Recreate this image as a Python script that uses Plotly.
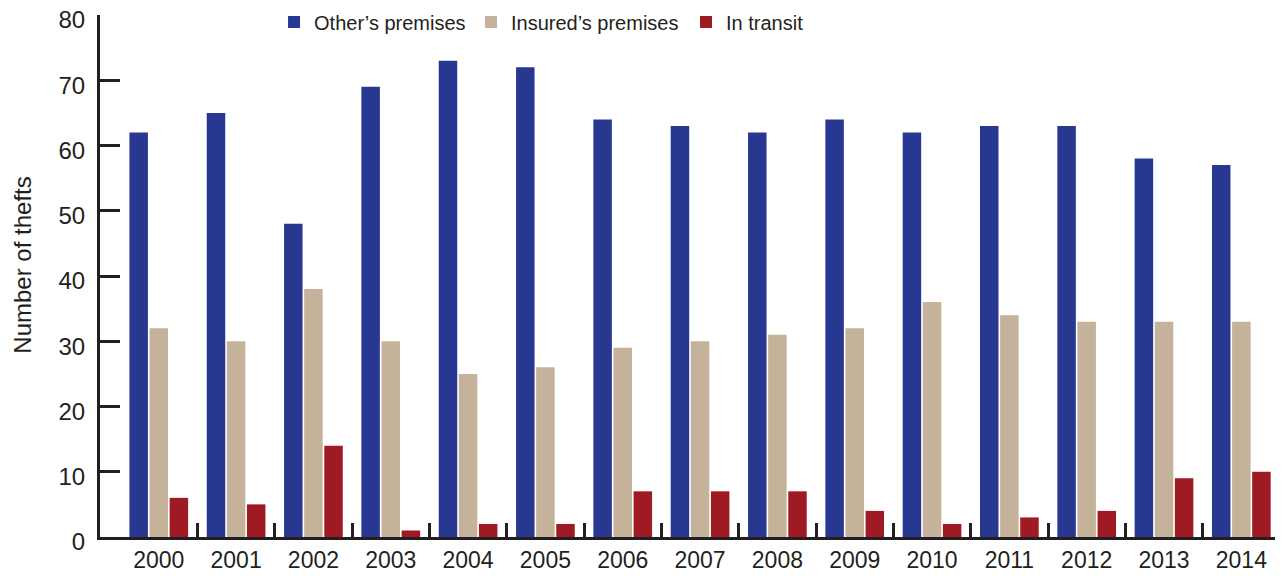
import plotly.graph_objects as go

years = ["2000", "2001", "2002", "2003", "2004", "2005", "2006", "2007",
         "2008", "2009", "2010", "2011", "2012", "2013", "2014"]
others_premises = [62, 65, 48, 69, 73, 72, 64, 63, 62, 64, 62, 63, 63, 58, 57]
insured_premises = [32, 30, 38, 30, 25, 26, 29, 30, 31, 32, 36, 34, 33, 33, 33]
in_transit = [6, 5, 14, 1, 2, 2, 7, 7, 7, 4, 2, 3, 4, 9, 10]

series_names = ["Other\u2019s premises", "Insured\u2019s premises", "In transit"]
series_colors = ["#283891", "#c4b39a", "#9e1b24"]
legend_ids = ["legend", "legend2", "legend3"]
legend_x = [0.1475, 0.3144, 0.4966]
y_title = "Number of thefts"

idx = list(range(len(years)))
FONT = "Liberation Sans, Arial, sans-serif"
INK = "#231f20"

fig = go.Figure()
for name, vals, col, lg in zip(series_names, [others_premises, insured_premises, in_transit],
                               series_colors, legend_ids):
    fig.add_trace(go.Bar(x=idx, y=vals, name=name, legend=lg,
                         marker=dict(color=col, line=dict(width=0))))

legend_common = dict(orientation="h", xanchor="left", y=0.9866, yanchor="middle",
                     font=dict(size=20, family=FONT, color=INK), bgcolor="rgba(0,0,0,0)")

# the page body adds an 8px offset, so the figure is 8px smaller and margins shifted
fig.update_layout(
    width=1275, height=568,
    margin=dict(l=92, r=3, t=7, b=39, autoexpand=False),
    plot_bgcolor="white", paper_bgcolor="white",
    barmode="group", bargap=0.22, bargroupgap=0.08,
    font=dict(family=FONT, size=22, color=INK),
    showlegend=True,
    legend=dict(x=legend_x[0], **legend_common),
    legend2=dict(x=legend_x[1], **legend_common),
    legend3=dict(x=legend_x[2], **legend_common),
    annotations=[dict(text=y_title, textangle=-90, xref="paper", yref="paper",
                      x=-0.066, y=0.52, xanchor="center", yanchor="middle",
                      showarrow=False, font=dict(size=24, family=FONT, color=INK))],
)
fig.update_xaxes(
    range=[-0.76, 14.5], tickmode="array", tickvals=idx, ticktext=years,
    ticks="", showline=True, linecolor=INK, linewidth=3, showgrid=False, zeroline=False,
    tickfont=dict(size=23, family=FONT, color=INK),
    minor=dict(tickmode="array", tickvals=[i + 0.5 for i in idx], ticks="inside",
               ticklen=14, tickwidth=3, tickcolor=INK, showgrid=False),
)
fig.update_yaxes(
    range=[0, 80], tickmode="array", tickvals=list(range(0, 81, 10)),
    ticks="inside", ticklen=20, tickwidth=3, tickcolor=INK,
    ticklabelstandoff=7, ticklabelshift=5, ticklabeloverflow="allow",
    showline=True, linecolor=INK, linewidth=3, showgrid=False, zeroline=False,
    tickfont=dict(size=24, family=FONT, color=INK),
)
fig.write_html("out.html")
